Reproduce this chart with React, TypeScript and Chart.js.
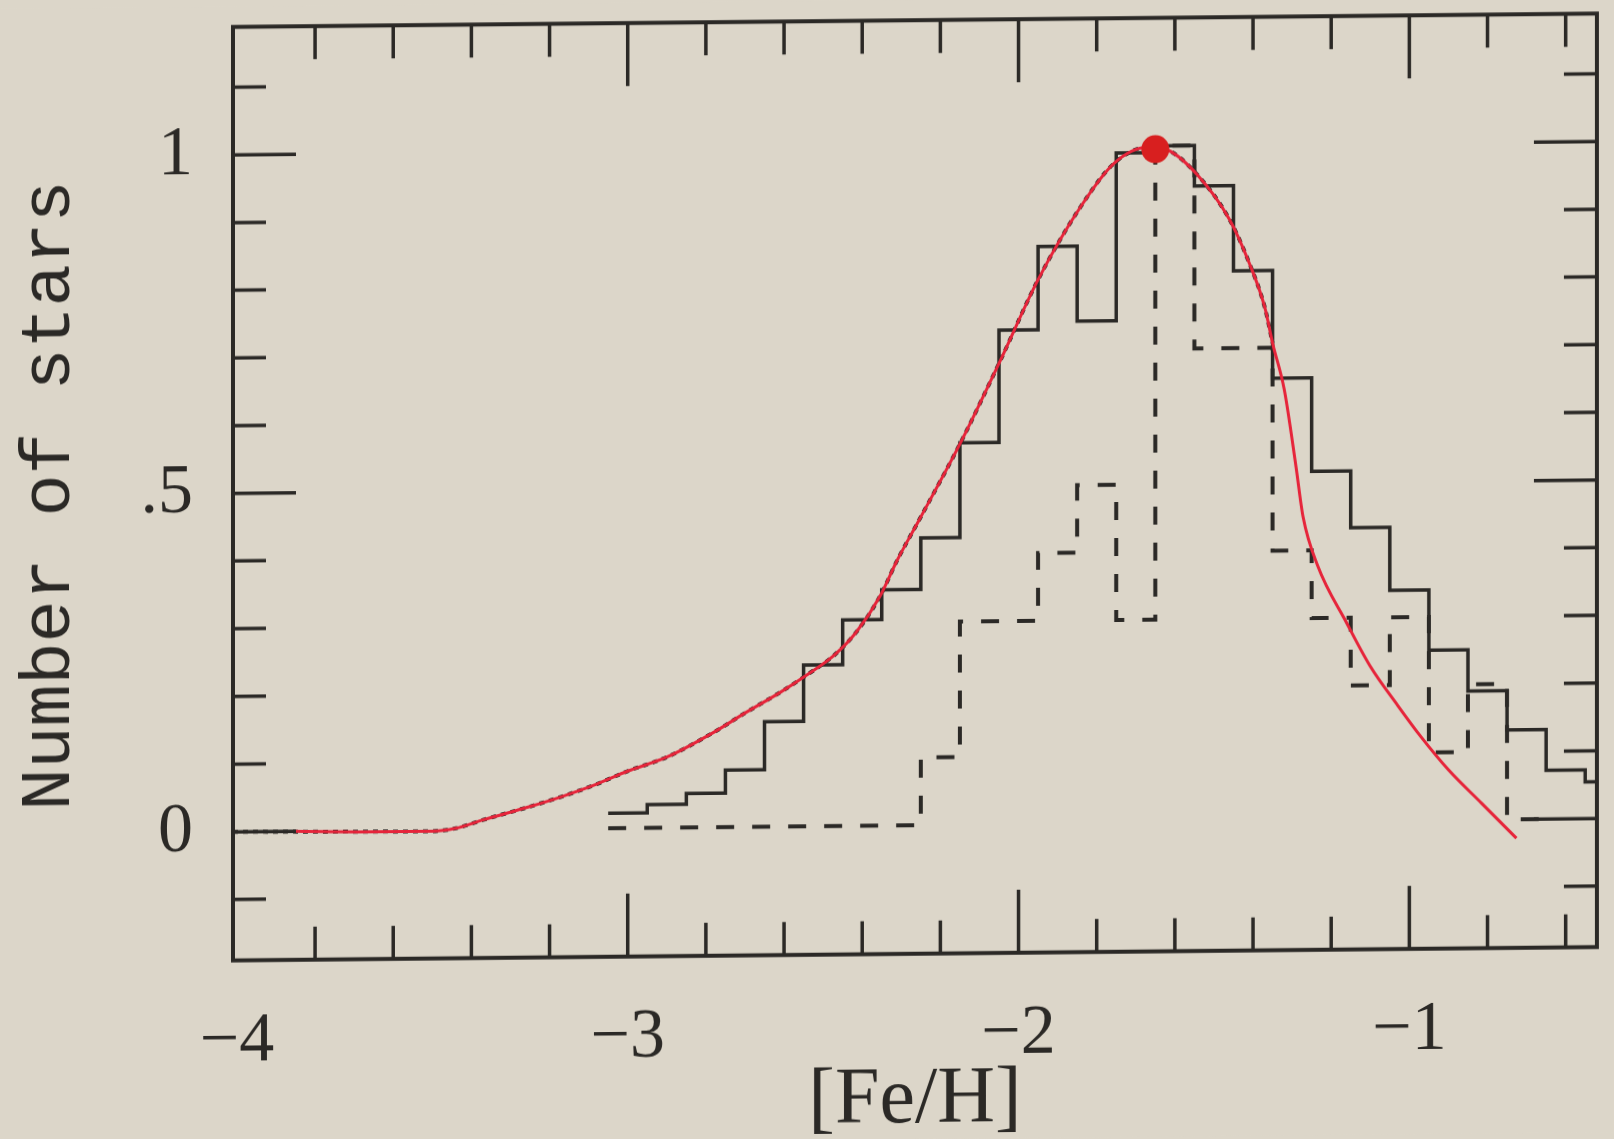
import { useEffect, useRef } from "react";
import { Chart, registerables } from "chart.js";

Chart.register(...registerables);

// ---- colours ----
const INK = "#2b2926";
const PAPER = "#dcd6c9";
const RED_LINE = "#e6243a";
const RED_DOT = "#d81f1f";

// ---- metallicity histogram, all stars (bin centres, 0.1 dex bins) ----
const BIN_WIDTH = 0.1;
const ALL_BINS = [
  -3.0, -2.9, -2.8, -2.7, -2.6, -2.5, -2.4, -2.3, -2.2, -2.1, -2.0, -1.9, -1.8,
  -1.7, -1.6, -1.5, -1.4, -1.3, -1.2, -1.1, -1.0, -0.9, -0.8, -0.7, -0.6, -0.5,
];
const ALL_COUNTS = [
  0.022, 0.034, 0.05, 0.084, 0.155, 0.238, 0.304, 0.348, 0.424, 0.564, 0.73,
  0.853, 0.742, 0.99, 1.0, 0.94, 0.814, 0.655, 0.517, 0.433, 0.34, 0.251, 0.19,
  0.132, 0.072, 0.054,
];

// ---- sub-sample histogram (dashed) ----
const SUB_BINS = [
  -3.0, -2.9, -2.8, -2.7, -2.6, -2.5, -2.4, -2.3, -2.2, -2.1, -2.0, -1.9, -1.8,
  -1.7, -1.6, -1.5, -1.4, -1.3, -1.2, -1.1, -1.0, -0.9, -0.8, -0.7,
];
const SUB_COUNTS = [
  0, 0, 0, 0, 0, 0, 0, 0, 0.1, 0.3, 0.3, 0.4, 0.5, 0.3, 1.0, 0.7, 0.7, 0.4, 0.3,
  0.2, 0.3, 0.1, 0.2, 0,
];

// ---- model distribution (red curve) ----
const MODEL_FEH = [
  -3.85, -3.65, -3.5, -3.44, -3.37, -3.25, -3.17, -3.08, -3.0, -2.9, -2.78,
  -2.7, -2.61, -2.54, -2.47, -2.415, -2.355, -2.31, -2.255, -2.145, -2.045,
  -1.95, -1.84, -1.755, -1.67, -1.62, -1.54, -1.46, -1.41, -1.37, -1.35, -1.32,
  -1.29, -1.272, -1.235, -1.16, -1.1, -1.03, -0.97, -0.9, -0.815, -0.726,
];
const MODEL_N = [
  0.0, -0.002, -0.002, 0.002, 0.014, 0.033, 0.047, 0.065, 0.084, 0.104, 0.14,
  0.168, 0.198, 0.224, 0.253, 0.286, 0.338, 0.392, 0.45, 0.568, 0.687, 0.804,
  0.912, 0.975, 0.998, 0.994, 0.955, 0.89, 0.826, 0.76, 0.707, 0.638, 0.524,
  0.45, 0.378, 0.292, 0.228, 0.17, 0.123, 0.074, 0.024, -0.028,
];

// dotted fit underneath the red curve: starts at the left edge, stops past the peak
const FIT_START_FEH = -4.01;
const FIT_START_N = 0;
const FIT_END_FEH = -1.34;

// marked peak of the distribution
const PEAK_FEH = -1.65;
const PEAK_N = 0.995;

// ---- axes ----
const X_MIN = -4.01;
const X_MAX = -0.52;
const Y_MIN = -0.19;
const Y_MAX = 1.189;
const X_MAJOR = [-4, -3, -2, -1];
const X_LABELS = ["\u22124", "\u22123", "\u22122", "\u22121"];
const Y_MAJOR = [0, 0.5, 1];
const Y_LABELS = ["0", ".5", "1"];
const X_MINOR_STEP = 0.2;
const Y_MINOR_STEP = 0.1;

function stepPoints(centers: number[], counts: number[]) {
  const pts = centers.map((c, i) => ({ x: c - BIN_WIDTH / 2, y: counts[i] }));
  const last = centers.length - 1;
  pts.push({ x: centers[last] + BIN_WIDTH / 2, y: counts[last] });
  return pts;
}

const modelPoints = MODEL_FEH.map((x, i) => ({ x, y: MODEL_N[i] }));
const fitPoints = [
  { x: FIT_START_FEH, y: FIT_START_N },
  ...modelPoints.filter((p) => p.x >= -3.6 && p.x <= FIT_END_FEH),
];

// Boxed frame with inward tick marks on all four sides
const frameTicks = {
  id: "frameTicks",
  afterDatasetsDraw(chart: any) {
    const { ctx, chartArea: a, scales } = chart;
    const xs = scales.x;
    const ys = scales.y;
    ctx.save();
    ctx.strokeStyle = INK;
    ctx.lineCap = "butt";
    ctx.lineWidth = 3.5;
    const major = 63;
    const minor = 33;

    const kx0 = Math.ceil(X_MIN / X_MINOR_STEP - 1e-6);
    const kx1 = Math.floor(X_MAX / X_MINOR_STEP + 1e-6);
    for (let k = kx0; k <= kx1; k++) {
      const v = k * X_MINOR_STEP;
      const px = xs.getPixelForValue(v);
      if (px - a.left < 8 || a.right - px < 8) continue;
      const len = Math.abs(v - Math.round(v)) < 1e-6 ? major : minor;
      ctx.beginPath();
      ctx.moveTo(px, a.bottom);
      ctx.lineTo(px, a.bottom - len);
      ctx.moveTo(px, a.top);
      ctx.lineTo(px, a.top + len);
      ctx.stroke();
    }

    const ky0 = Math.ceil(Y_MIN / Y_MINOR_STEP - 1e-6);
    const ky1 = Math.floor(Y_MAX / Y_MINOR_STEP + 1e-6);
    for (let k = ky0; k <= ky1; k++) {
      const v = k * Y_MINOR_STEP;
      const py = ys.getPixelForValue(v);
      if (py - a.top < 8 || a.bottom - py < 8) continue;
      const len = Math.abs(v * 2 - Math.round(v * 2)) < 1e-6 ? major : minor;
      ctx.beginPath();
      ctx.moveTo(a.left, py);
      ctx.lineTo(a.left + len, py);
      ctx.moveTo(a.right, py);
      ctx.lineTo(a.right - len, py);
      ctx.stroke();
    }

    ctx.lineWidth = 4;
    ctx.strokeRect(a.left, a.top, a.right - a.left, a.bottom - a.top);
    ctx.restore();
  },
};

export default function App() {
  const canvasRef = useRef<HTMLCanvasElement | null>(null);

  useEffect(() => {
    const canvas = canvasRef.current;
    if (!canvas) return;
    const chart = new Chart(canvas, {
      type: "line",
      data: {
        datasets: [
          {
            label: "peak",
            data: [{ x: PEAK_FEH, y: PEAK_N }],
            showLine: false,
            pointRadius: 14,
            pointBackgroundColor: RED_DOT,
            pointBorderWidth: 0,
          },
          {
            label: "model",
            data: modelPoints,
            borderColor: RED_LINE,
            borderWidth: 3,
            pointRadius: 0,
            cubicInterpolationMode: "monotone",
            fill: false,
          },
          {
            label: "all stars",
            data: stepPoints(ALL_BINS, ALL_COUNTS),
            stepped: "before",
            borderColor: INK,
            borderWidth: 3.5,
            pointRadius: 0,
            fill: false,
          },
          {
            label: "sub-sample",
            data: stepPoints(SUB_BINS, SUB_COUNTS),
            stepped: "before",
            borderColor: INK,
            borderWidth: 4,
            borderDash: [18, 18],
            pointRadius: 0,
            fill: false,
          },
          {
            label: "fit",
            data: fitPoints,
            borderColor: INK,
            borderWidth: 4,
            borderDash: [5, 5],
            pointRadius: 0,
            cubicInterpolationMode: "monotone",
            fill: false,
          },
        ],
      },
      options: {
        animation: false,
        responsive: false,
        events: [],
        layout: { padding: { top: 20.25, right: 17, left: 0, bottom: 0 } },
        plugins: { legend: { display: false }, tooltip: { enabled: false } },
        scales: {
          x: {
            type: "linear",
            min: X_MIN,
            max: X_MAX,
            grid: { display: false },
            border: { display: false },
            afterBuildTicks: (s: any) => {
              s.ticks = X_MAJOR.map((v) => ({ value: v }));
            },
            afterFit: (s: any) => {
              s.height = 185.25;
              s.paddingLeft = 0;
              s.paddingRight = 0;
            },
            ticks: {
              autoSkip: false,
              maxRotation: 0,
              padding: 32,
              color: INK,
              font: { family: "'Liberation Serif', serif", size: 70 },
              callback: (_v: any, i: number) => X_LABELS[i],
            },
            title: {
              display: true,
              text: "[Fe/H]",
              color: INK,
              font: { family: "'Liberation Serif', serif", size: 80, lineHeight: 1 },
              padding: { top: 0, bottom: -2 },
            },
          },
          y: {
            type: "linear",
            min: Y_MIN,
            max: Y_MAX,
            grid: { display: false },
            border: { display: false },
            afterBuildTicks: (s: any) => {
              s.ticks = Y_MAJOR.map((v) => ({ value: v }));
            },
            afterFit: (s: any) => {
              s.width = 233;
              s.paddingTop = 0;
              s.paddingBottom = 0;
            },
            ticks: {
              autoSkip: false,
              padding: 32,
              color: INK,
              font: { family: "'Liberation Serif', serif", size: 70 },
              callback: (_v: any, i: number) => Y_LABELS[i],
            },
            title: {
              display: true,
              text: "Number of stars",
              color: INK,
              font: { family: "'Liberation Mono', monospace", size: 70, lineHeight: 1.2 },
              padding: { top: 8, bottom: 0 },
            },
          },
        },
      },
      plugins: [frameTicks],
    } as any);
    return () => chart.destroy();
  }, []);

  return (
    <div
      style={{
        position: "fixed",
        left: 0,
        top: 0,
        width: 1614,
        height: 1139,
        overflow: "hidden",
        background: PAPER,
      }}
    >
      <canvas
        ref={canvasRef}
        width={1614}
        height={1139}
        style={{
          display: "block",
          background: PAPER,
          transform: "skewY(-0.5625deg)",
          transformOrigin: "914.5px 485.5px",
        }}
      />
    </div>
  );
}
